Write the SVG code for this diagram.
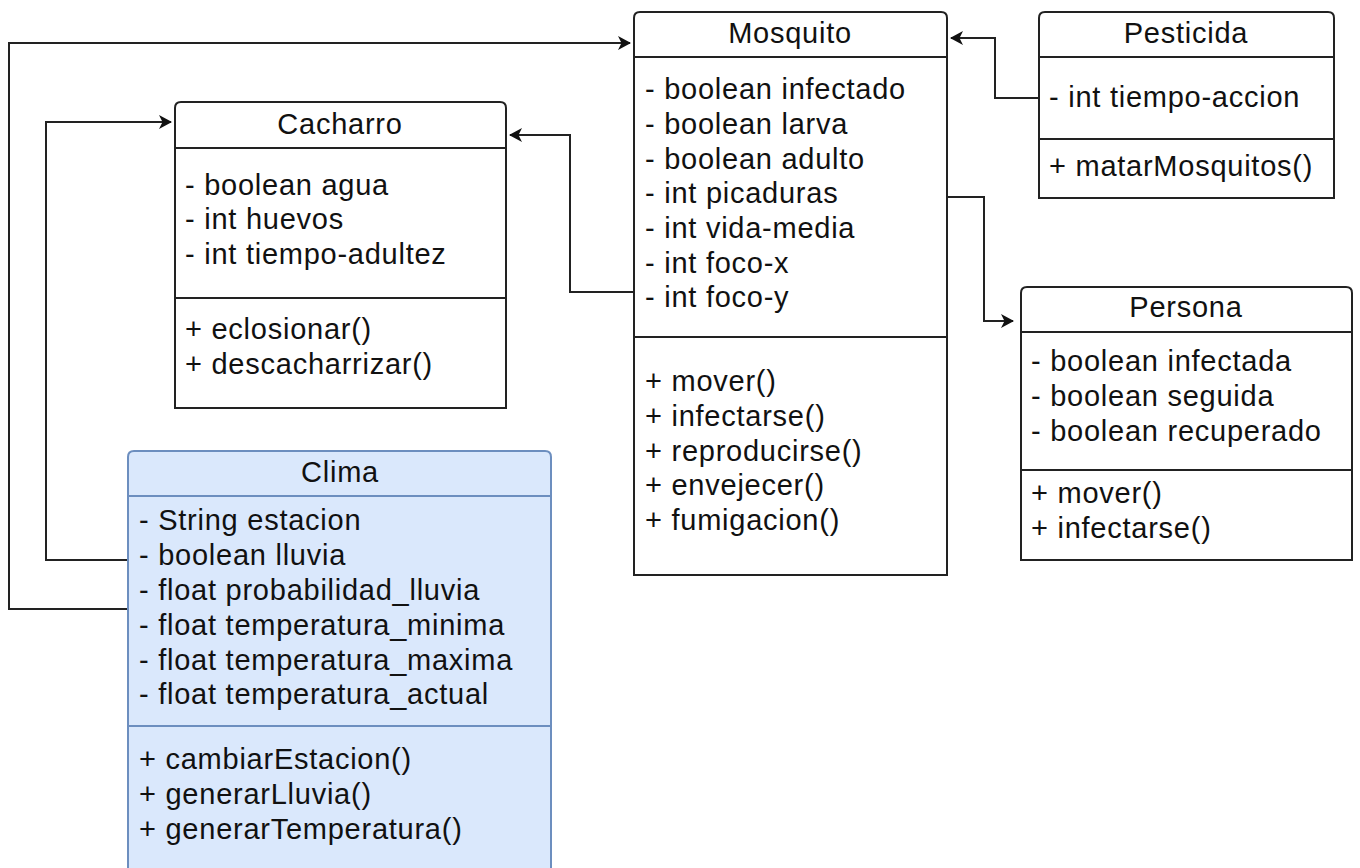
<svg xmlns="http://www.w3.org/2000/svg" width="1360" height="868" viewBox="0 0 1360 868">
  <style>
    .box { fill: #ffffff; stroke: #222222; stroke-width: 2; }
    .blue { fill: #dae8fc; stroke: #6c8ebf; stroke-width: 2; }
    .sep { stroke: #222222; stroke-width: 2; }
    .sepb { stroke: #6c8ebf; stroke-width: 2; }
    .t { font-family: "Liberation Sans", Arial, sans-serif; font-size: 29px; letter-spacing: 0.75px; fill: #111111; }
    .title { text-anchor: middle; }
    .edge { fill: none; stroke: #222222; stroke-width: 2; }
  </style>
  <defs>
    <marker id="arrow" markerUnits="userSpaceOnUse" markerWidth="16" markerHeight="16" refX="12" refY="7" orient="auto">
      <path d="M0,0 L13,7 L0,14 L3.5,7 Z" fill="#111111"/>
    </marker>
  </defs>
  <rect width="1360" height="868" fill="#ffffff"/>

  <!-- associations -->
  <g id="connectors">
    <polyline class="edge" points="128,609 9,609 9,43 630,43" marker-end="url(#arrow)"/>
    <polyline class="edge" points="128,560 46,560 46,122 171,122" marker-end="url(#arrow)"/>
    <polyline class="edge" points="634,292 570,292 570,135 510,135" marker-end="url(#arrow)"/>
    <polyline class="edge" points="1039,98 995,98 995,38 951,38" marker-end="url(#arrow)"/>
    <polyline class="edge" points="947,197 984,197 984,321 1013,321" marker-end="url(#arrow)"/>
  </g>

  <!-- Mosquito -->
  <g id="mosquito">
    <path class="box" d="M634,575 L634,18 Q634,12 640,12 L941,12 Q947,12 947,18 L947,575 Z"/>
    <line class="sep" x1="634" y1="57" x2="947" y2="57"/>
    <line class="sep" x1="634" y1="337" x2="947" y2="337"/>
    <text class="t title" x="790" y="43">Mosquito</text>
    <text class="t" x="645" y="99">- boolean infectado</text>
    <text class="t" x="645" y="134">- boolean larva</text>
    <text class="t" x="645" y="169">- boolean adulto</text>
    <text class="t" x="645" y="203">- int picaduras</text>
    <text class="t" x="645" y="238">- int vida-media</text>
    <text class="t" x="645" y="273">- int foco-x</text>
    <text class="t" x="645" y="307">- int foco-y</text>
    <text class="t" x="645" y="391">+ mover()</text>
    <text class="t" x="645" y="426">+ infectarse()</text>
    <text class="t" x="645" y="461">+ reproducirse()</text>
    <text class="t" x="645" y="495">+ envejecer()</text>
    <text class="t" x="645" y="530">+ fumigacion()</text>
  </g>

  <!-- Pesticida -->
  <g id="pesticida">
    <path class="box" d="M1039,198 L1039,18 Q1039,12 1045,12 L1328,12 Q1334,12 1334,18 L1334,198 Z"/>
    <line class="sep" x1="1039" y1="57" x2="1334" y2="57"/>
    <line class="sep" x1="1039" y1="139" x2="1334" y2="139"/>
    <text class="t title" x="1186" y="43">Pesticida</text>
    <text class="t" x="1049" y="107">- int tiempo-accion</text>
    <text class="t" x="1049" y="176">+ matarMosquitos()</text>
  </g>

  <!-- Cacharro -->
  <g id="cacharro">
    <path class="box" d="M175,408 L175,108 Q175,102 181,102 L500,102 Q506,102 506,108 L506,408 Z"/>
    <line class="sep" x1="175" y1="148" x2="506" y2="148"/>
    <line class="sep" x1="175" y1="298" x2="506" y2="298"/>
    <text class="t title" x="340" y="134">Cacharro</text>
    <text class="t" x="185" y="195">- boolean agua</text>
    <text class="t" x="185" y="229">- int huevos</text>
    <text class="t" x="185" y="264">- int tiempo-adultez</text>
    <text class="t" x="185" y="339">+ eclosionar()</text>
    <text class="t" x="185" y="374">+ descacharrizar()</text>
  </g>

  <!-- Persona -->
  <g id="persona">
    <path class="box" d="M1021,560 L1021,293 Q1021,287 1027,287 L1346,287 Q1352,287 1352,293 L1352,560 Z"/>
    <line class="sep" x1="1021" y1="332" x2="1352" y2="332"/>
    <line class="sep" x1="1021" y1="470" x2="1352" y2="470"/>
    <text class="t title" x="1186" y="317">Persona</text>
    <text class="t" x="1031" y="371">- boolean infectada</text>
    <text class="t" x="1031" y="406">- boolean seguida</text>
    <text class="t" x="1031" y="441">- boolean recuperado</text>
    <text class="t" x="1031" y="503">+ mover()</text>
    <text class="t" x="1031" y="538">+ infectarse()</text>
  </g>

  <!-- Clima -->
  <g id="clima">
    <path class="blue" d="M128,880 L128,457 Q128,451 134,451 L545,451 Q551,451 551,457 L551,880 Z"/>
    <line class="sepb" x1="128" y1="496" x2="551" y2="496"/>
    <line class="sepb" x1="128" y1="726" x2="551" y2="726"/>
    <text class="t title" x="340" y="482">Clima</text>
    <text class="t" x="139" y="530">- String estacion</text>
    <text class="t" x="139" y="565">- boolean lluvia</text>
    <text class="t" x="139" y="600">- float probabilidad_lluvia</text>
    <text class="t" x="139" y="635">- float temperatura_minima</text>
    <text class="t" x="139" y="670">- float temperatura_maxima</text>
    <text class="t" x="139" y="704">- float temperatura_actual</text>
    <text class="t" x="139" y="769">+ cambiarEstacion()</text>
    <text class="t" x="139" y="804">+ generarLluvia()</text>
    <text class="t" x="139" y="839">+ generarTemperatura()</text>
  </g>
</svg>
